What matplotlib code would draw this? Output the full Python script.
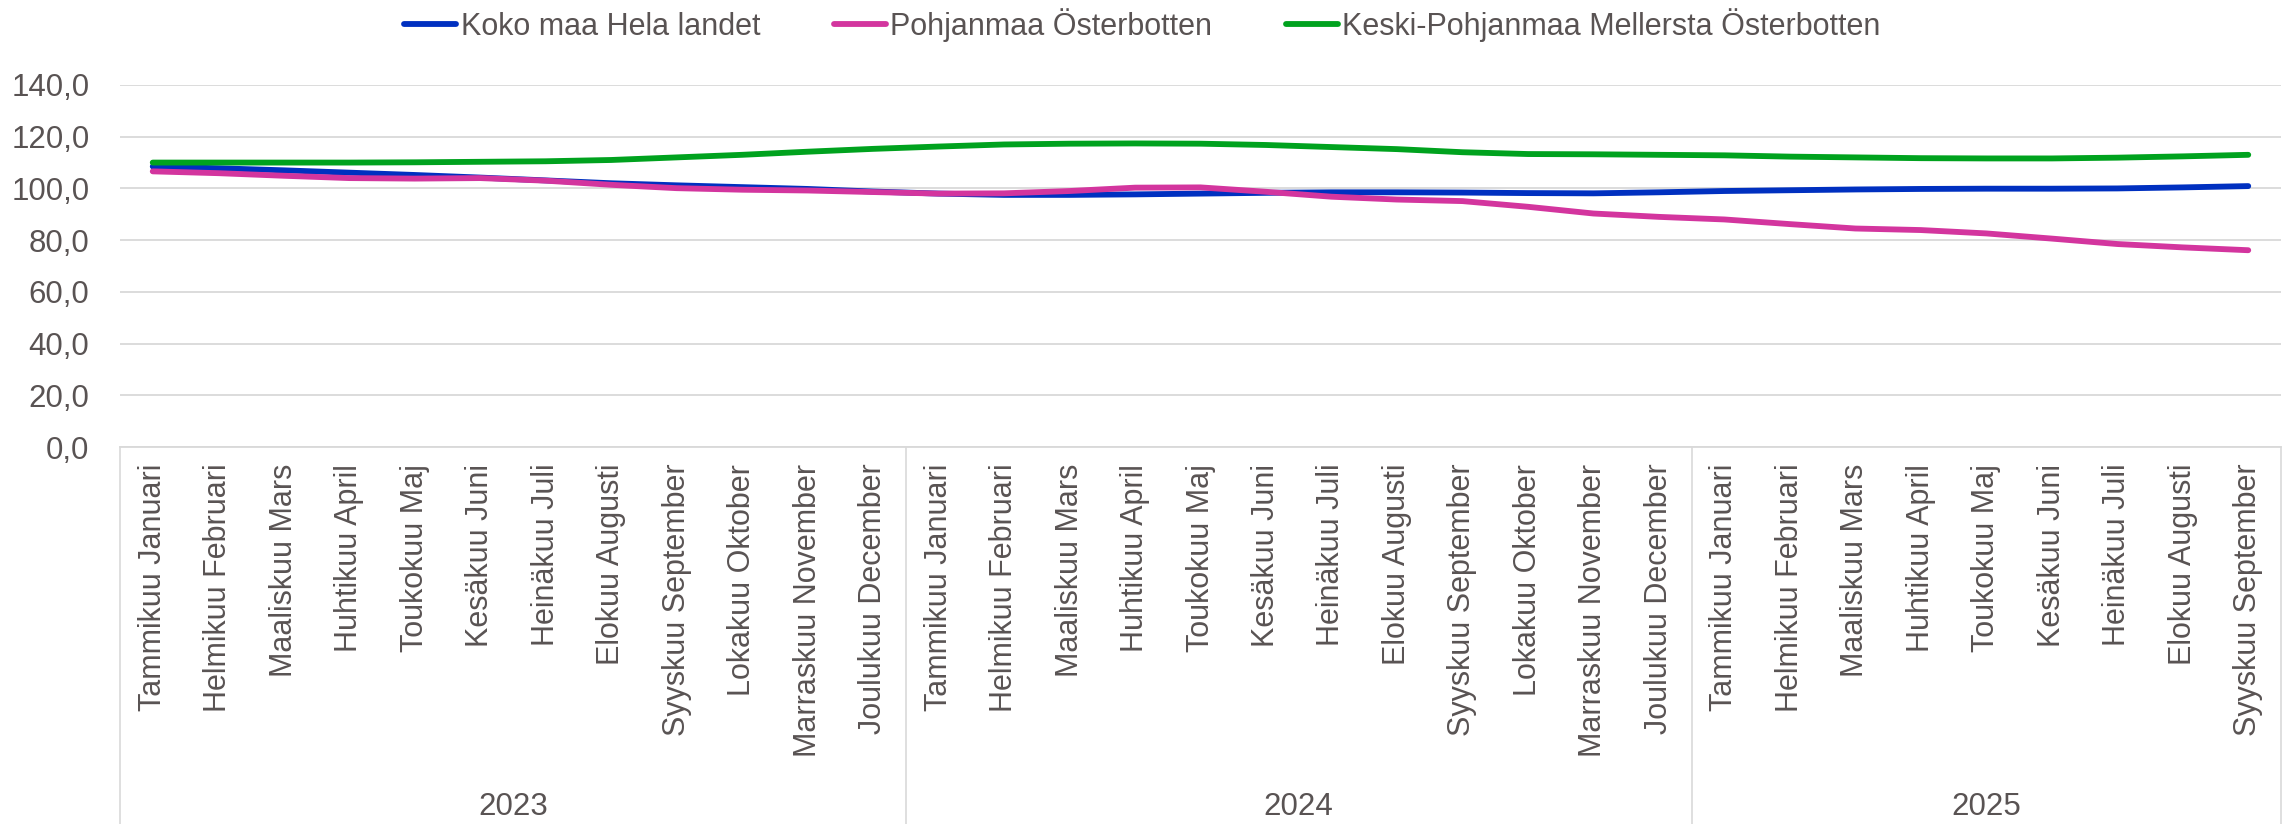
import matplotlib
matplotlib.use("Agg")
import matplotlib.pyplot as plt
from matplotlib.ticker import FuncFormatter
from matplotlib.transforms import blended_transform_factory

plt.rcParams['font.family'] = ['Liberation Sans', 'DejaVu Sans']

months = ["Tammikuu Januari", "Helmikuu Februari", "Maaliskuu Mars", "Huhtikuu April",
          "Toukokuu Maj", "Kesäkuu Juni", "Heinäkuu Juli", "Elokuu Augusti",
          "Syyskuu September", "Lokakuu Oktober", "Marraskuu November", "Joulukuu December"]
years = ["2023", "2024", "2025"]
year_len = [12, 12, 9]

labels = []
for n in year_len:
    labels += months[:n]

koko_maa = [108.5, 107.8, 107.0, 106.1, 105.2, 104.2, 103.1, 102.0, 101.2, 100.5, 99.8, 98.8,
            98.0, 97.5, 97.5, 97.7, 98.0, 98.3, 98.5, 98.5, 98.4, 98.2, 98.1, 98.5,
            99.0, 99.3, 99.6, 99.8, 99.9, 99.9, 100.0, 100.4, 100.9]
pohjanmaa = [106.6, 105.9, 104.9, 104.0, 103.8, 104.0, 103.0, 101.4, 100.1, 99.5, 99.2, 98.6,
             98.0, 98.1, 99.0, 100.3, 100.4, 98.7, 96.8, 95.7, 95.1, 92.9, 90.3, 89.0,
             88.0, 86.2, 84.5, 83.9, 82.6, 80.6, 78.5, 77.2, 76.1]
keski_pohjanmaa = [110.0, 110.0, 110.0, 110.0, 110.1, 110.3, 110.5, 111.0, 112.0, 113.0, 114.2, 115.3,
                   116.2, 117.0, 117.3, 117.4, 117.3, 116.8, 116.0, 115.2, 114.0, 113.3, 113.2, 113.0,
                   112.8, 112.3, 112.0, 111.7, 111.6, 111.6, 111.9, 112.4, 113.0]

series = [("Koko maa Hela landet", koko_maa, "#0030C0"),
          ("Pohjanmaa Österbotten", pohjanmaa, "#D3359E"),
          ("Keski-Pohjanmaa Mellersta Österbotten", keski_pohjanmaa, "#00A21E")]

txt = "#595353"
grid = "#D9D9D9"

fig = plt.figure(figsize=(22.85, 8.24), dpi=100)
ax = fig.add_axes([120 / 2285, 1 - 447 / 824, (2281 - 120) / 2285, (447 - 85) / 824])

x = list(range(len(labels)))
for name, vals, col in series:
    ax.plot(x, vals, color=col, lw=4.2, label=name,
            solid_capstyle='round', solid_joinstyle='round')

ax.set_xlim(-0.5, len(labels) - 0.5)
ax.set_ylim(0, 140)
ax.set_yticks(range(0, 141, 20))
ax.yaxis.set_major_formatter(FuncFormatter(lambda v, p: f"{v:.1f}".replace(".", ",")))
ax.grid(axis='y', color=grid, lw=1.3)
ax.set_axisbelow(True)
for s in ['top', 'right', 'left']:
    ax.spines[s].set_visible(False)
ax.spines['bottom'].set_color(grid)
ax.spines['bottom'].set_linewidth(1.3)
ax.tick_params(axis='y', length=0, pad=22, labelsize=22.5, labelcolor=txt)
ax.tick_params(axis='x', length=0, pad=12, labelsize=22, labelcolor=txt)
ax.set_xticks(x)
ax.set_xticklabels(labels, rotation=90, va='top', ha='center')

# year group separators and labels
bot = ax.get_position().y0
tr = blended_transform_factory(ax.transData, fig.transFigure)
edges = [-0.5]
for n in year_len:
    edges.append(edges[-1] + n)
for e in edges:
    ax.plot([e, e], [bot, 0], color=grid, lw=1.2, transform=tr, clip_on=False)
for i, yr in enumerate(years):
    ax.text((edges[i] + edges[i + 1]) / 2, 17 / 824, yr, transform=tr,
            ha='center', va='center', fontsize=22.5, color=txt)

fig.legend(loc='center', bbox_to_anchor=(0.5, 1 - 25 / 824), ncol=3, frameon=False,
           fontsize=22, handlelength=1.7, handletextpad=0.15, columnspacing=2.4,
           labelcolor=txt)

fig.savefig("out.png", dpi=100)
